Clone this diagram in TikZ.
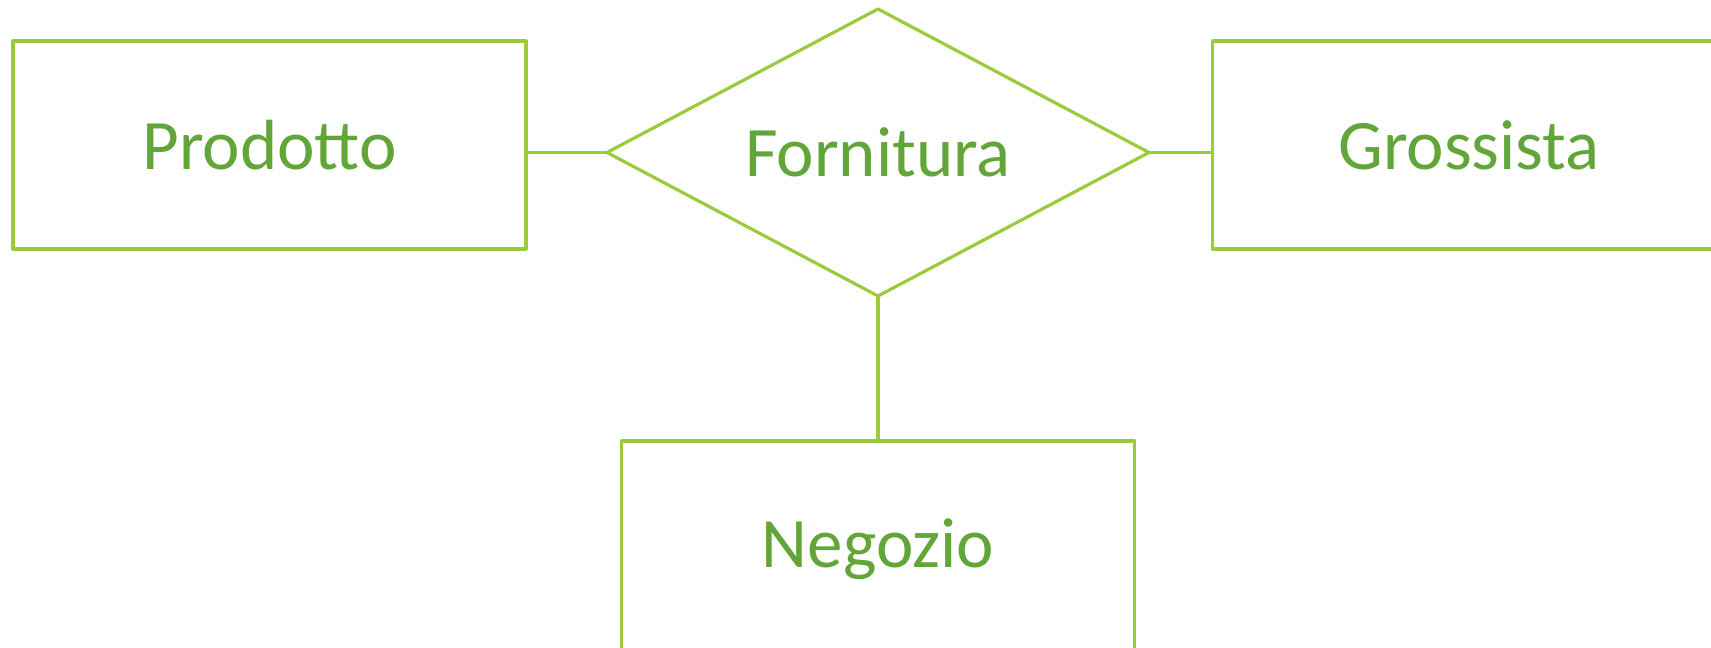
\documentclass[tikz,border=0pt]{standalone}
\usepackage{fontspec}
\setmainfont{Carlito}
\usetikzlibrary{shapes.geometric}
\definecolor{erline}{HTML}{9BCB3C}
\definecolor{ertext}{HTML}{62A539}
\begin{document}
\begin{tikzpicture}[x=0.5pt,y=-0.5pt,
  erbase/.style={draw=erline, line width=1.6pt, line join=round, text=ertext,
    font=\fontsize{35.5pt}{40pt}\selectfont, inner sep=0pt, outer sep=0pt},
  entity/.style={erbase, rectangle, minimum width=256.5pt, minimum height=104pt},
  relation/.style={erbase, diamond, aspect=1.89, minimum width=271pt, minimum height=143.5pt},
  link/.style={draw=erline, line width=1.6pt}]
\path[use as bounding box, clip] (0,0) rectangle (1711,647);
\node[entity] (prod) at (269.5,145) {Prodotto};
\node[entity] (gros) at (1469,145) {Grossista};
\node[entity, minimum height=108pt] (neg) at (878,549) {Negozio};
\node[relation] (forn) at (878,152.5) {Fornitura};
\draw[link] (forn.west) -- (forn.west -| prod.east);
\draw[link] (forn.east) -- (forn.east -| gros.west);
\draw[link] (forn.south) -- (neg.north);
\end{tikzpicture}
\end{document}
